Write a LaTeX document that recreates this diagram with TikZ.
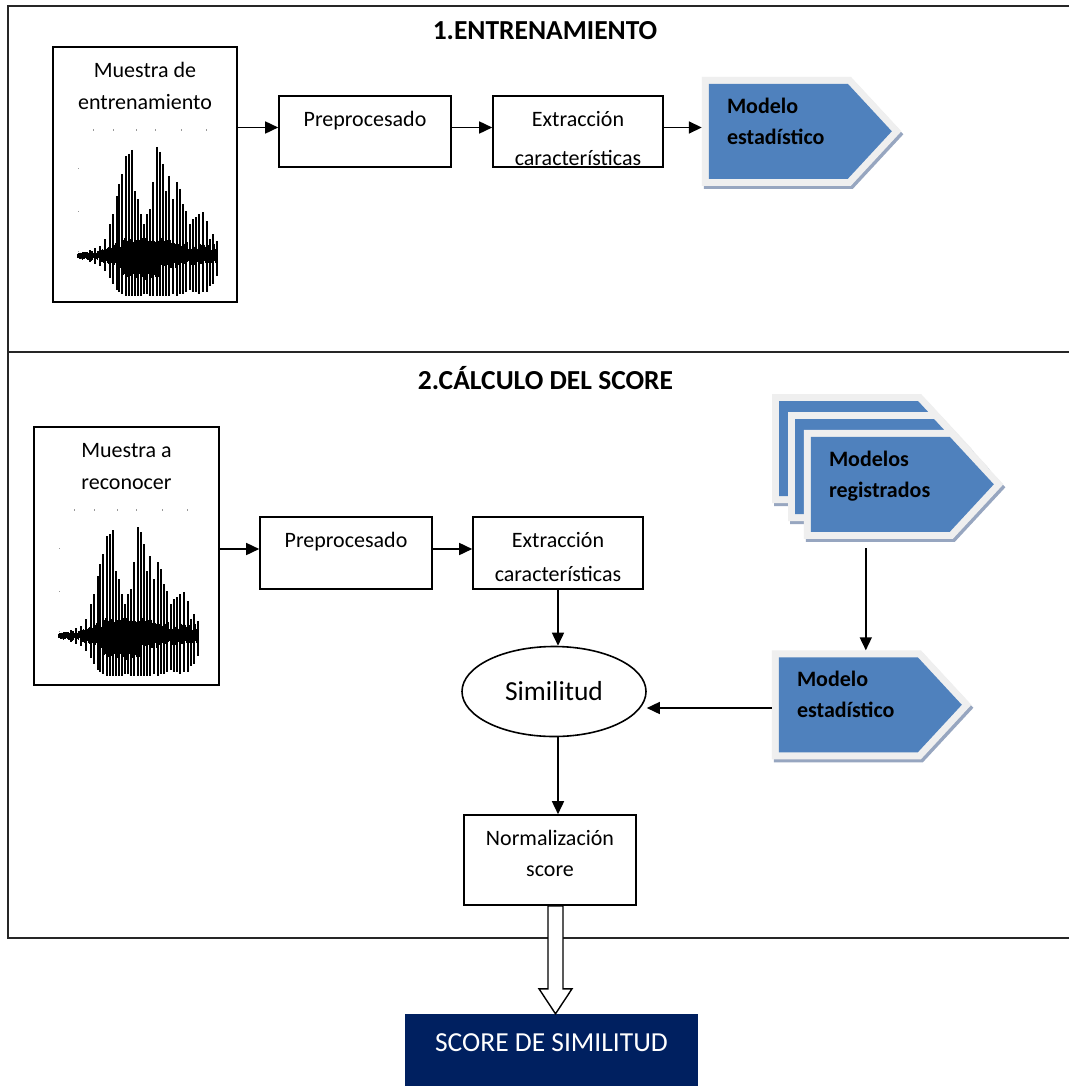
\documentclass[tikz,border=0pt]{standalone}
\usepackage{fontspec}
\setmainfont{Carlito}
\usetikzlibrary{arrows.meta,shapes.geometric,calc}

\definecolor{chevblue}{HTML}{4F81BD}
\definecolor{chevgray}{HTML}{EFEFEF}
\definecolor{chevshadow}{HTML}{97A6C0}
\definecolor{navy}{HTML}{002060}

% strut that fixes the height of the first text line
\newcommand\Ls{\rule{0pt}{17pt}}

% speech waveform drawn around the local origin (baseline at y=0)
\newcommand\speechwave{%
  \pgfmathsetseed{2718}%
  \foreach \dx in {16,36,59,78,104,129}{\fill[black!40] (\dx,-127) rectangle ++(1.2,1.6);}%
  \foreach \dy in {-88,-45,-5}{\fill[black!40] (0.5,\dy) rectangle ++(1.2,1.2);}%
  \fill (0,0) -- (5,-3) -- (5,3) -- cycle;%
  % dense noisy body: segments with linearly varying envelopes
  \foreach \xa/\xb/\ua/\ub/\da/\db/\wk in {0/25/3/7/3/7/0.3, 25/46/7/16/7/13/0.45,
      46/66/18/18/21/25/0.75, 66/84/18/17/25/21/0.75, 84/141/19/12/13/9/0.4}{%
    \pgfmathtruncatemacro\wn{(\xb-\xa)/0.55}%
    \foreach \j in {0,...,\wn}{%
      \pgfmathsetmacro\wx{\xa+\j*0.55}%
      \pgfmathsetmacro\wf{\j/max(1,\wn)}%
      \pgfmathsetmacro\wu{-(\ua+(\ub-\ua)*\wf)*(\wk+(1-\wk)*rnd)}%
      \pgfmathsetmacro\wd{(\da+(\db-\da)*\wf)*(\wk+(1-\wk)*rnd)}%
      \draw[wavepen] (\wx,\wu) -- (\wx,\wd);%
    }%
  }%
  % pitch pulses
  \foreach \wx/\wu/\wd in {13/6/6,18/8/8,23/10/10,28/17/15,33/32/22,36/42/28,
      40/60/34,42/72/36,45/82/38,49/100/40,52/102/40,55/106/40,58/65/40,
      61/57/40,64/42/40,67/32/38,70/42/38,73/47/40,76/74/40,80/109/40,
      83/104/40,86/92/40,89/65/40,92/80/40,96/57/38,100/74/40,103/67/38,
      106/52/38,109/45/36,113/32/34,116/37/36,119/39/36,122/42/38,126/44/36,
      130/35/36,133/17/30,136/22/28,140/15/20}{%
    \draw[wavepen,line width=1.2pt] (\wx,-\wu) -- (\wx,\wd);%
  }%
}

\tikzset{
  frame/.style={line width=1.8pt, draw=black!85},
  box/.style={draw, line width=1.6pt, inner sep=0pt},
  boxtext/.style={anchor=north, inner sep=0pt, align=center,
    font=\fontsize{22}{32}\selectfont, yshift=-14.5pt},
  titletext/.style={anchor=base, inner sep=0pt,
    font=\bfseries\fontsize{27.5}{33}\selectfont},
  chevbox/.style={inner sep=0pt, minimum width=183pt, minimum height=95pt},
  chevtext/.style={anchor=north west, inner sep=0pt, align=left,
    font=\bfseries\fontsize{22}{31}\selectfont, xshift=18pt, yshift=-14pt},
  arr/.style={-{Triangle[length=13pt,width=12pt]}, line width=1.6pt},
  wavepen/.style={draw=black, line width=1pt},
  chev/.pic={
    \path[draw=chevshadow, fill=chevshadow, line width=14, line join=miter]
      (2,3) -- (141,3) -- (185,50.5) -- (141,98) -- (2,98) -- cycle;
    \path[draw=chevgray, fill=chevgray, line width=14, line join=miter]
      (0,0) -- (139,0) -- (183,47.5) -- (139,95) -- (0,95) -- cycle;
    \fill[chevblue] (0,0) -- (139,0) -- (183,47.5) -- (139,95) -- (0,95) -- cycle;
  }
}

\begin{document}
\begin{tikzpicture}[x=1pt,y=-1pt]
\useasboundingbox[fill=white] (0,0) rectangle (1069,1086);

% outer frame split into the two stages
\draw[frame] (1069,6) -- (8,6) -- (8,938) -- (1069,938);
\draw[frame] (8,352) -- (1069,352);

\node[titletext] (t1) at (545,40) {1.ENTRENAMIENTO};
\node[titletext] (t2) at (545.5,389) {2.CÁLCULO DEL SCORE};

% ---- stage 1: training ----
\node[box, minimum width=184pt, minimum height=255pt] (a1) at (145,174.5) {};
\node[boxtext] (a1t) at (a1.north) {\Ls Muestra de\\entrenamiento};
\begin{scope}[shift={(77,256)}]\speechwave\end{scope}

\node[box, minimum width=172pt, minimum height=71pt] (p1) at (365,131.5) {};
\node[boxtext] (p1t) at (p1.north) {\Ls Preprocesado};

\node[box, minimum width=170pt, minimum height=71pt] (e1) at (578,131.5) {};
\begin{scope}
  \clip (e1.north west) rectangle ([yshift=2pt]e1.south east);
  \node[boxtext, font=\fontsize{22}{39}\selectfont] (e1t) at (e1.north)
    {\Ls Extracción\\características};
\end{scope}

\node[chevbox] (m1) at (800.5,131.5) {};
\pic at (m1.north west) {chev};
\node[chevtext] (m1t) at (m1.north west) {Modelo\\estadístico};

\draw[arr] ([yshift=4pt]p1.west -| a1.east) -- ([yshift=4pt]p1.west);
\draw[arr] ([yshift=4pt]e1.west -| p1.east) -- ([yshift=4pt]e1.west);
\draw[arr] ([yshift=4pt]e1.east) -- ([yshift=4pt,xshift=-7pt]e1.east -| m1.west);

% ---- stage 2: score computation ----
\node[box, minimum width=185pt, minimum height=258pt] (a2) at (126.5,556) {};
\node[boxtext] (a2t) at (a2.north) {\Ls Muestra a\\reconocer};
\begin{scope}[shift={(58,636)}]\speechwave\end{scope}

\node[box, minimum width=172pt, minimum height=72pt] (p2) at (346,553) {};
\node[boxtext] (p2t) at (p2.north) {\Ls Preprocesado};

\node[box, minimum width=170pt, minimum height=72pt] (e2) at (558,553) {};
\begin{scope}
  \clip (e2.north west) rectangle ([yshift=7pt]e2.south east);
  \node[boxtext, font=\fontsize{22}{34}\selectfont] (e2t) at (e2.north)
    {\Ls Extracción\\características};
\end{scope}

% stack of enrolled models
\pic at (779,401) {chev};
\pic at (795,419) {chev};
\node[chevbox] (mr) at (902.5,484.5) {};
\pic at (mr.north west) {chev};
\node[chevtext] (mrt) at (mr.north west) {Modelos\\registrados};

\node[chevbox] (m2) at (870.5,705) {};
\pic at (m2.north west) {chev};
\node[chevtext] (m2t) at (m2.north west) {Modelo\\estadístico};

\node[draw, ellipse, line width=1.6pt, minimum width=184pt, minimum height=90pt,
  inner sep=0pt, font=\fontsize{27.5}{33}\selectfont] (sim) at (554,691.5) {Similitud};

\node[box, minimum width=172pt, minimum height=90pt] (norm) at (550,860) {};
\node[boxtext, font=\fontsize{22}{31}\selectfont] (normt) at (norm.north)
  {\Ls Normalización\\score};

\draw[arr] ([yshift=4pt]p2.west -| a2.east) -- ([yshift=4pt]p2.west);
\draw[arr] ([yshift=4pt]e2.west -| p2.east) -- ([yshift=4pt]e2.west);
\draw[arr] (e2.south) -- (e2.south |- sim.north);
\draw[arr] ($(mr.south west)+(55,16)$) -- ($(m2.north west)+(87,-7)$);
\draw[arr] ([yshift=-3pt,xshift=-7pt]m2.west) -- ([yshift=-3pt]m2.west -| sim.east);
\draw[arr] (e2.south |- sim.south) -- (e2.south |- norm.north);

% result
\node[fill=navy, text=white, minimum width=293pt, minimum height=58pt, inner sep=0pt,
  font=\fontsize{27.5}{33}\selectfont] (score) at (551.5,1043) {SCORE DE SIMILITUD};
\fill[navy] (score.south west) rectangle ([yshift=-20pt]score.south east);

% hollow block arrow to the result
\draw[line width=1.4pt, fill=white, line join=miter]
  ([xshift=-2pt]norm.south) -- ++(0,83) -- ++(-9,0) -- ++(16.5,25)
  -- ++(16.5,-25) -- ++(-9,0) -- ++(0,-83) -- cycle;
\end{tikzpicture}
\end{document}
